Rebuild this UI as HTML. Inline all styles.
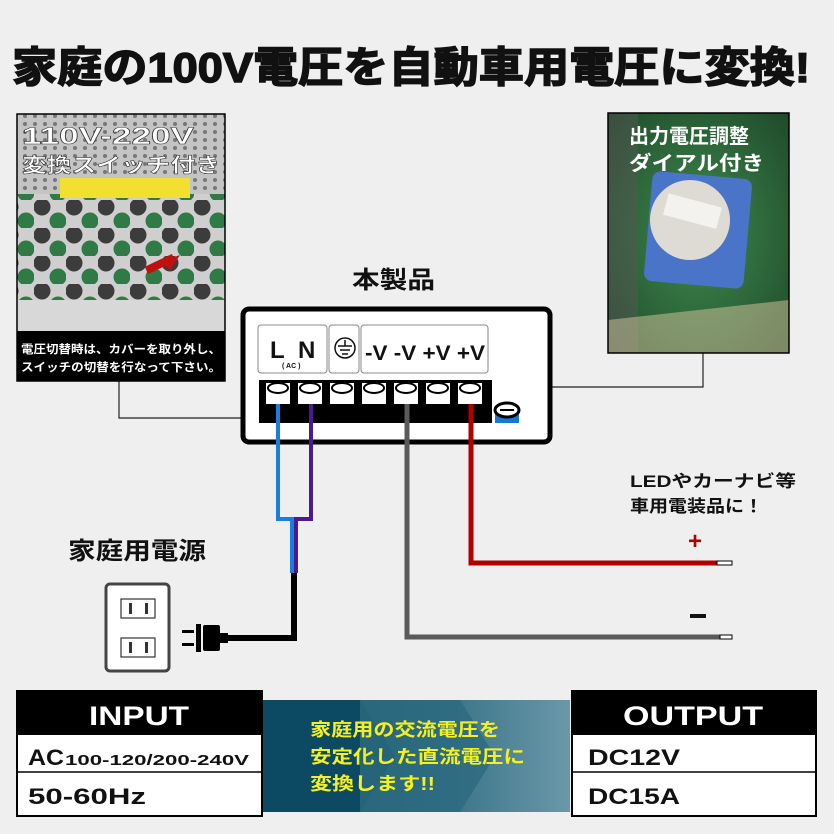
<!DOCTYPE html>
<html><head><meta charset="utf-8"><style>
html,body{margin:0;padding:0;background:#efefef;}
svg{display:block;}
text{font-family:"Liberation Sans","Noto Sans CJK JP",sans-serif;font-weight:bold;}
</style></head><body>
<svg width="834" height="834" viewBox="0 0 834 834" xmlns="http://www.w3.org/2000/svg">
<defs>
<pattern id="holes" x="2" y="4" width="32" height="28" patternUnits="userSpaceOnUse">
<rect width="32" height="28" fill="#cfcfcf"/>
<circle cx="8" cy="7" r="8.5" fill="#3c3c3c"/>
<circle cx="24" cy="21" r="8.5" fill="#2f7a45"/>
</pattern>
<pattern id="small" x="0" y="0" width="10" height="8" patternUnits="userSpaceOnUse">
<rect width="10" height="8" fill="#c4c4c4"/>
<circle cx="5" cy="4" r="2" fill="#777"/>
</pattern>
<linearGradient id="mid" x1="0" x2="1" y1="0" y2="0">
<stop offset="0" stop-color="#0d4a64"/><stop offset="0.5" stop-color="#2d6a80"/><stop offset="1" stop-color="#6a98a8"/>
</linearGradient>
<radialGradient id="pcb" cx="0.5" cy="0.5" r="0.7">
<stop offset="0" stop-color="#3f8a4e"/><stop offset="1" stop-color="#1f4a2a"/>
</radialGradient>
</defs>
<rect width="834" height="834" fill="#efefef"/>

<text x="12" y="82" font-size="42" textLength="798" lengthAdjust="spacingAndGlyphs" fill="#111" stroke="#111" stroke-width="1.5">家庭の100V電圧を自動車用電圧に変換!</text>

<!-- connectors -->
<polyline points="119,381 119,418 241,418" fill="none" stroke="#222" stroke-width="1.2"/>
<polyline points="703,353 703,387 520,387 520,410" fill="none" stroke="#222" stroke-width="1.2"/>

<!-- left photo -->
<rect x="17" y="114" width="208" height="217" fill="url(#holes)"/>
<rect x="17" y="114" width="208" height="80" fill="url(#small)"/>
<rect x="17" y="300" width="208" height="31" fill="#d8d8d8"/>
<rect x="60" y="178" width="130" height="20" fill="#f2e030"/>
<polygon points="180,255 160,262 170,270" fill="#c01010"/>
<rect x="145" y="260" width="30" height="8" fill="#c01010" transform="rotate(-25 160 264)"/>
<rect x="17" y="331" width="208" height="50" fill="#000"/>
<rect x="17" y="114" width="208" height="267" fill="none" stroke="#000" stroke-width="1.5"/>
<text x="22" y="144" font-size="24" fill="#fff" stroke="#333" stroke-width="0.6" textLength="172" lengthAdjust="spacingAndGlyphs">110V-220V</text>
<text x="22" y="172" font-size="20" fill="#fff" stroke="#333" stroke-width="0.6" textLength="198" lengthAdjust="spacingAndGlyphs">変換スイッチ付き</text>
<text x="21" y="353" font-size="11.5" fill="#fff" textLength="200" lengthAdjust="spacingAndGlyphs">電圧切替時は、カバーを取り外し、</text>
<text x="21" y="371" font-size="11.5" fill="#fff" textLength="200" lengthAdjust="spacingAndGlyphs">スイッチの切替を行なって下さい。</text>

<!-- right photo -->
<rect x="608" y="113" width="181" height="240" fill="url(#pcb)"/>
<rect x="608" y="113" width="30" height="240" fill="#555" opacity="0.5"/>
<polygon points="608,320 789,300 789,353 608,353" fill="#d8c8a0" opacity="0.5"/>
<rect x="648" y="175" width="100" height="110" rx="8" fill="#4a74c8" transform="rotate(5 698 230)"/>
<circle cx="690" cy="220" r="40" fill="#dedbd5"/>
<rect x="665" y="200" width="55" height="22" fill="#f4f2ee" transform="rotate(15 692 211)"/>
<text x="629" y="143" font-size="20" fill="#fff" textLength="120" lengthAdjust="spacingAndGlyphs">出力電圧調整</text>
<text x="629" y="170" font-size="20" fill="#fff" textLength="135" lengthAdjust="spacingAndGlyphs">ダイアル付き</text>
<rect x="608" y="113" width="181" height="240" fill="none" stroke="#000" stroke-width="1.5"/>

<!-- 本製品 -->
<text x="352" y="288" font-size="24" fill="#111" textLength="83" lengthAdjust="spacingAndGlyphs">本製品</text>

<!-- device -->
<rect x="243" y="309" width="307" height="133" rx="6" fill="#fff" stroke="#000" stroke-width="5"/>
<rect x="258" y="325" width="69" height="48" rx="3" fill="#fff" stroke="#888"/>
<rect x="329" y="325" width="30" height="48" rx="3" fill="#fff" stroke="#888"/>
<rect x="361" y="325" width="127" height="48" rx="3" fill="#fff" stroke="#888"/>
<text x="270" y="358" font-size="24" fill="#111">L</text>
<text x="298" y="358" font-size="24" fill="#111">N</text>
<text x="282" y="368" font-size="7" fill="#111">( AC )</text>
<circle cx="345" cy="348" r="10" fill="none" stroke="#111" stroke-width="1.5"/>
<line x1="345" y1="340" x2="345" y2="346" stroke="#111" stroke-width="1.5"/>
<line x1="338" y1="346" x2="352" y2="346" stroke="#111" stroke-width="1.5"/>
<line x1="340" y1="350" x2="350" y2="350" stroke="#111" stroke-width="1.5"/>
<line x1="342" y1="354" x2="348" y2="354" stroke="#111" stroke-width="1.5"/>
<text x="365" y="360" font-size="21" fill="#111" textLength="120" lengthAdjust="spacingAndGlyphs">-V -V +V +V</text>
<rect x="259" y="380" width="233" height="43" fill="#000"/>
<g fill="#fff">
<rect x="266" y="383" width="24" height="21"/><rect x="298" y="383" width="24" height="21"/>
<rect x="330" y="383" width="24" height="21"/><rect x="362" y="383" width="24" height="21"/>
<rect x="394" y="383" width="24" height="21"/><rect x="426" y="383" width="24" height="21"/>
<rect x="458" y="383" width="24" height="21"/>
</g>
<g fill="#fff" stroke="#000" stroke-width="2">
<ellipse cx="278" cy="388" rx="10" ry="5"/><ellipse cx="310" cy="388" rx="10" ry="5"/>
<ellipse cx="342" cy="388" rx="10" ry="5"/><ellipse cx="374" cy="388" rx="10" ry="5"/>
<ellipse cx="406" cy="388" rx="10" ry="5"/><ellipse cx="438" cy="388" rx="10" ry="5"/>
<ellipse cx="470" cy="388" rx="10" ry="5"/>
</g>
<rect x="495" y="410" width="24" height="13" fill="#1877d0"/>
<ellipse cx="507" cy="410" rx="12" ry="7" fill="#fff" stroke="#000" stroke-width="3"/>
<line x1="500" y1="410" x2="514" y2="410" stroke="#000" stroke-width="2"/>

<!-- wires -->
<polyline points="278,404 278,519 292,519 292,573" fill="none" stroke="#1a7ee0" stroke-width="4"/>
<polyline points="311,404 311,519 296,519 296,573" fill="none" stroke="#4a1a90" stroke-width="4"/>
<polyline points="294,573 294,638 226,638" fill="none" stroke="#000" stroke-width="6"/>
<polyline points="471,404 471,563 717,563" fill="none" stroke="#b00000" stroke-width="5"/>
<rect x="717" y="561" width="15" height="4" fill="#fff" stroke="#000" stroke-width="1"/>
<polyline points="407,404 407,637 720,637" fill="none" stroke="#5a5a5a" stroke-width="5"/>
<rect x="720" y="635" width="12" height="4" fill="#fff" stroke="#000" stroke-width="1"/>
<text x="688" y="549" font-size="24" fill="#b00000">+</text>
<rect x="690" y="614" width="16" height="4" fill="#111"/>
<text x="630" y="487" font-size="17" fill="#111" textLength="166" lengthAdjust="spacingAndGlyphs">LEDやカーナビ等</text>
<text x="630" y="512" font-size="17" fill="#111" textLength="133" lengthAdjust="spacingAndGlyphs">車用電装品に！</text>

<!-- outlet & plug -->
<text x="68" y="559" font-size="24" fill="#111" textLength="138" lengthAdjust="spacingAndGlyphs">家庭用電源</text>
<rect x="106" y="584" width="63" height="87" rx="4" fill="#fff" stroke="#444" stroke-width="3"/>
<rect x="121" y="599" width="34" height="19" fill="#fff" stroke="#333" stroke-width="1.2"/>
<rect x="121" y="638" width="34" height="19" fill="#fff" stroke="#333" stroke-width="1.2"/>
<g fill="#333"><rect x="129" y="603" width="3" height="11"/><rect x="145" y="603" width="3" height="11"/><rect x="129" y="642" width="3" height="11"/><rect x="145" y="642" width="3" height="11"/></g>
<rect x="182" y="630" width="12" height="3" fill="#000"/>
<rect x="182" y="643" width="12" height="3" fill="#000"/>
<rect x="196" y="624" width="5" height="28" fill="#000"/>
<rect x="203" y="625" width="17" height="26" rx="2" fill="#000"/>
<rect x="218" y="633" width="10" height="10" fill="#000"/>

<!-- bottom -->
<polygon points="262,700 570,700 570,812 262,812" fill="url(#mid)"/>
<polygon points="262,700 360,700 395,756 360,812 262,812" fill="#0b4a62"/>
<polygon points="360,700 460,700 495,756 460,812 360,812" fill="#2c6a80" opacity="0.8"/>
<text x="310" y="736" font-size="18" fill="#f5f020" textLength="190" lengthAdjust="spacingAndGlyphs">家庭用の交流電圧を</text>
<text x="310" y="763" font-size="18" fill="#f5f020" textLength="215" lengthAdjust="spacingAndGlyphs">安定化した直流電圧に</text>
<text x="310" y="790" font-size="18" fill="#f5f020" textLength="125" lengthAdjust="spacingAndGlyphs">変換します!!</text>

<rect x="17" y="691" width="245" height="125" fill="#fff" stroke="#000" stroke-width="2"/>
<rect x="17" y="691" width="245" height="44" fill="#000"/>
<line x1="17" y1="772" x2="262" y2="772" stroke="#000" stroke-width="1.5"/>
<text x="139" y="725" font-size="27" fill="#fff" text-anchor="middle" textLength="100" lengthAdjust="spacingAndGlyphs">INPUT</text>
<text x="28" y="765" font-size="22" fill="#111" textLength="36" lengthAdjust="spacingAndGlyphs">AC</text>
<text x="65" y="765" font-size="15" fill="#111" textLength="184" lengthAdjust="spacingAndGlyphs">100-120/200-240V</text>
<text x="28" y="804" font-size="22" fill="#111" textLength="118" lengthAdjust="spacingAndGlyphs">50-60Hz</text>

<rect x="572" y="691" width="244" height="125" fill="#fff" stroke="#000" stroke-width="2"/>
<rect x="572" y="691" width="244" height="44" fill="#000"/>
<line x1="572" y1="772" x2="816" y2="772" stroke="#000" stroke-width="1.5"/>
<text x="693" y="725" font-size="27" fill="#fff" text-anchor="middle" textLength="140" lengthAdjust="spacingAndGlyphs">OUTPUT</text>
<text x="588" y="765" font-size="22" fill="#111" textLength="92" lengthAdjust="spacingAndGlyphs">DC12V</text>
<text x="588" y="804" font-size="22" fill="#111" textLength="92" lengthAdjust="spacingAndGlyphs">DC15A</text>
</svg>
</body></html>
